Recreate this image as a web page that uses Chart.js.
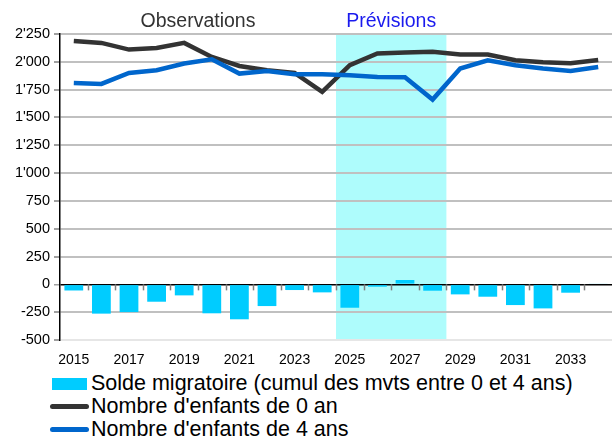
<!DOCTYPE html>
<html>
<head>
<meta charset="utf-8">
<title>Solde migratoire et nombre d'enfants</title>
<script src="https://cdn.jsdelivr.net/npm/chart.js"></script>
<style>
  body { margin: 0; background: #fff; font-family: "Liberation Sans", Arial, sans-serif; }
  #wrap { position: relative; width: 613px; height: 438px; }
  #legend { position: absolute; left: 50px; top: 372px; font-size: 21.5px; color: #000; }
  .row { height: 23px; line-height: 23px; display: flex; align-items: center; white-space: nowrap; }
  .sw { display: inline-block; width: 39px; margin-right: 2px; }
  .box { height: 12px; background: #00ccff; width: 35px; margin-left: 2px; margin-right: 4px; }
  .ln { height: 5px; border-radius: 3px; }
</style>
</head>
<body>
<div id="wrap">
  <canvas id="c" width="613" height="370"></canvas>
  <div id="legend">
    <div class="row"><span class="sw box"></span>Solde migratoire (cumul des mvts entre 0 et 4 ans)</div>
    <div class="row"><span class="sw ln" style="background:#333333"></span>Nombre d'enfants de 0 an</div>
    <div class="row"><span class="sw ln" style="background:#0066cc"></span>Nombre d'enfants de 4 ans</div>
  </div>
</div>
<script>
// data
const years = ['2015','2016','2017','2018','2019','2020','2021','2022','2023','2024',
               '2025','2026','2027','2028','2029','2030','2031','2032','2033','2034'];
const soldeMigratoire = [-55, -263, -249, -156, -99, -260, -314, -195, -51, -72,
                         -210, -21, 39, -57, -90, -111, -186, -216, -75, 6];
const enfants0 = [2188, 2170, 2110, 2125, 2170, 2044, 1963, 1924, 1900, 1729,
                  1970, 2075, 2084, 2090, 2066, 2066, 2014, 1996, 1987, 2017];
const enfants4 = [1810, 1801, 1900, 1924, 1985, 2023, 1894, 1918, 1888, 1888,
                  1879, 1864, 1862, 1661, 1940, 2014, 1970, 1940, 1918, 1954];
const yMin = -500, yMax = 2250, yStep = 250;
const prevStart = 10, prevEnd = 13; // 2025..2028

function fmt(v) {
  return String(v).replace(/\B(?=(\d{3})+(?!\d))/g, "'");
}

// shaded forecast band, drawn under grid
const bandPlugin = {
  id: 'band',
  beforeDraw(chart) {
    const { ctx, chartArea, scales } = chart;
    const x = scales.x;
    const half = (x.getPixelForValue(1) - x.getPixelForValue(0)) / 2;
    const x0 = x.getPixelForValue(prevStart) - half;
    const x1 = x.getPixelForValue(prevEnd) + half;
    ctx.save();
    ctx.fillStyle = '#aefcfc';
    ctx.fillRect(x0, chartArea.top, x1 - x0, chartArea.bottom - chartArea.top);
    ctx.restore();
  },
  afterDraw(chart) {
    const { ctx, scales } = chart;
    const x = scales.x, y = scales.y;
    const half = (x.getPixelForValue(1) - x.getPixelForValue(0)) / 2;
    const y0 = y.getPixelForValue(0);
    // small ticks on the zero line
    ctx.save();
    ctx.strokeStyle = '#808080';
    ctx.lineWidth = 1.5;
    for (let i = 1; i < years.length; i++) {
      const px = Math.round(x.getPixelForValue(i) - half) + 0.5;
      ctx.beginPath();
      ctx.moveTo(px, y0);
      ctx.lineTo(px, y0 + 6);
      ctx.stroke();
    }
    // section titles
    ctx.font = '19.5px "Liberation Sans", Arial, sans-serif';
    ctx.textAlign = 'center';
    ctx.textBaseline = 'alphabetic';
    ctx.fillStyle = '#333333';
    ctx.fillText('Observations', (x.getPixelForValue(0) + x.getPixelForValue(prevStart - 1)) / 2, 27);
    ctx.fillStyle = '#1a1aee';
    ctx.fillText('Prévisions', (x.getPixelForValue(prevStart) + x.getPixelForValue(prevEnd)) / 2, 27);
    ctx.restore();
  }
};

new Chart(document.getElementById('c'), {
  data: {
    labels: years,
    datasets: [
      {
        type: 'line',
        label: "Nombre d'enfants de 0 an",
        data: enfants0,
        borderColor: '#333333',
        borderWidth: 4.5,
        pointRadius: 0,
        tension: 0,
        order: 1
      },
      {
        type: 'line',
        label: "Nombre d'enfants de 4 ans",
        data: enfants4,
        borderColor: '#0066cc',
        borderWidth: 4.5,
        pointRadius: 0,
        tension: 0,
        order: 0
      },
      {
        type: 'bar',
        label: 'Solde migratoire (cumul des mvts entre 0 et 4 ans)',
        data: soldeMigratoire,
        backgroundColor: '#00ccff',
        barPercentage: 0.68,
        categoryPercentage: 1,
        order: 2
      }
    ]
  },
  options: {
    responsive: false,
    animation: false,
    layout: { padding: { top: 34, right: 1, left: 0, bottom: 0 } },
    plugins: {
      legend: { display: false },
      tooltip: { enabled: false }
    },
    scales: {
      x: {
        offset: true,
        grid: { display: false },
        border: { display: false },
        ticks: {
          autoSkip: false,
          maxRotation: 0,
          color: '#000',
          font: { family: '"Liberation Sans", Arial, sans-serif', size: 14 },
          padding: 4,
          callback: function (v, i) { return i % 2 === 0 ? years[i] : ''; }
        },
        afterFit: function (s) { s.height = 30; }
      },
      y: {
        min: yMin,
        max: yMax,
        ticks: {
          stepSize: yStep,
          color: '#000',
          font: { family: '"Liberation Sans", Arial, sans-serif', size: 14.5 },
          padding: 4,
          callback: function (v) { return fmt(v); }
        },
        grid: {
          color: function (c) {
            if (c.tick && c.tick.value === 0) return '#000000';
            if (c.tick && c.tick.value === yMin) return '#e6e6e6';
            return '#c0c0c0';
          },
          lineWidth: function (c) { return (c.tick && c.tick.value === 0) ? 1.5 : 2; },
          tickColor: '#a0a0a0',
          tickLength: 6
        },
        border: { display: true, color: '#000', width: 1.5 },
        afterFit: function (s) { s.width = 60; }
      }
    }
  },
  plugins: [bandPlugin]
});
</script>
</body>
</html>
